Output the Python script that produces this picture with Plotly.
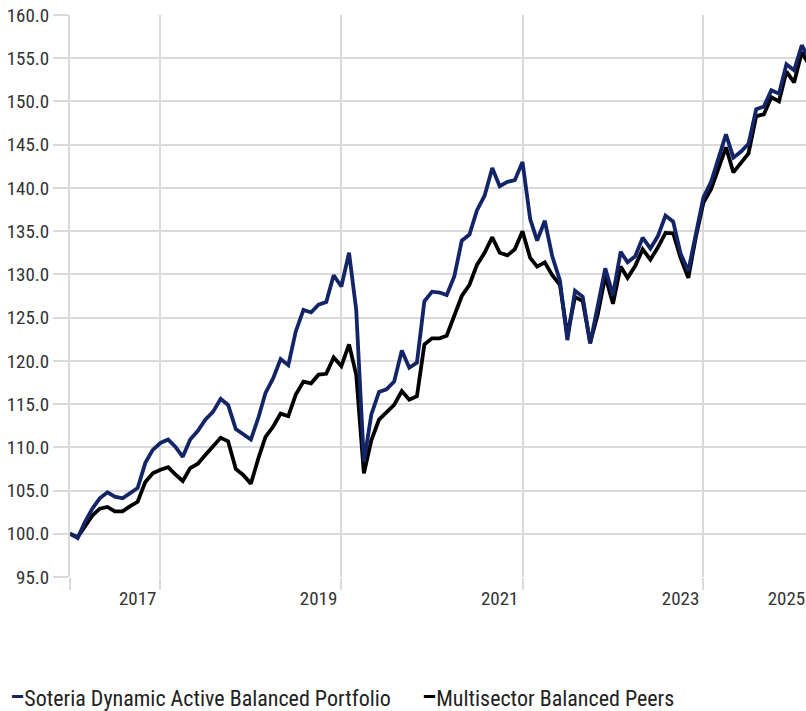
import pandas as pd
import plotly.graph_objects as go

start_date = "2017-01-01"
n_months = 99

soteria = [100.0, 99.5, 101.3, 102.9, 104.1, 104.8, 104.3, 104.1, 104.7, 105.3,
           108.2, 109.7, 110.5, 110.9, 110.1, 108.9, 110.9, 111.9, 113.2, 114.1,
           115.6, 114.9, 112.1, 111.5, 110.9, 113.5, 116.3, 118.0, 120.2, 119.5,
           123.4, 125.9, 125.6, 126.5, 126.8, 129.9, 128.6, 132.5, 125.9, 108.3,
           113.8, 116.4, 116.7, 117.6, 121.2, 119.2, 119.8, 126.9, 128.0, 127.9,
           127.6, 129.8, 133.9, 134.6, 137.4, 139.1, 142.3, 140.2, 140.7, 140.9,
           143.0, 136.4, 133.9, 136.2, 132.1, 129.3, 122.4, 128.1, 127.4, 122.0,
           126.4, 130.7, 127.6, 132.6, 131.4, 132.1, 134.25, 133.0, 134.4, 136.8,
           136.1, 132.4, 130.4, 134.8, 138.9, 140.7, 143.3, 146.2, 143.5, 144.2,
           145.1, 149.1, 149.4, 151.3, 150.9, 154.3, 153.6, 156.5, 155.0]

peers = [100.0, 99.6, 100.8, 102.1, 102.9, 103.1, 102.6, 102.6, 103.2, 103.7,
         106.0, 107.0, 107.4, 107.7, 106.9, 106.1, 107.6, 108.1, 109.1, 110.1,
         111.1, 110.7, 107.5, 106.8, 105.8, 108.8, 111.2, 112.4, 113.9, 113.6,
         116.1, 117.6, 117.4, 118.4, 118.5, 120.4, 119.4, 121.9, 118.4, 107.0,
         110.8, 113.2, 114.0, 114.9, 116.5, 115.5, 115.9, 121.9, 122.6, 122.6,
         122.9, 125.1, 127.5, 128.8, 131.1, 132.5, 134.3, 132.5, 132.2, 132.9,
         135.0, 131.9, 130.9, 131.4, 129.9, 128.8, 123.0, 127.4, 126.9, 122.1,
         125.4, 129.8, 126.6, 130.9, 129.6, 131.0, 132.9, 131.7, 133.1, 134.8,
         134.75, 131.9, 129.6, 134.25, 138.3, 139.85, 142.2, 144.7, 141.8, 142.9,
         144.0, 148.3, 148.5, 150.5, 150.0, 153.45, 152.2, 155.7, 154.3]

series_names = ["Soteria Dynamic Active Balanced Portfolio", "Multisector Balanced Peers"]
series_colors = ["#132467", "#000000"]

grid_dates = ["2017-01-01", "2018-01-01", "2020-01-01", "2022-01-01", "2024-01-01"]
label_dates = ["2017-10-01", "2019-10-01", "2021-10-01", "2023-10-01", "2024-12-01"]
label_text = ["2017", "2019", "2021", "2023", "2025"]
x_end = "2025-02-18"

dates = pd.date_range(start_date, periods=n_months, freq="MS")

FONT = "Roboto Condensed, Archivo Narrow, Liberation Sans Narrow, sans-serif"
GRID = "#dadada"

W, H = 806, 711
ML, MT, MB = 70, 15, 134
PW, PH = W - ML, H - MT - MB

fig = go.Figure()
fig.add_trace(go.Scatter(x=dates, y=peers, mode="lines", name=series_names[1],
                         line=dict(color=series_colors[1], width=3.8), showlegend=False))
fig.add_trace(go.Scatter(x=dates, y=soteria, mode="lines", name=series_names[0],
                         line=dict(color=series_colors[0], width=3.8), showlegend=False))
fig.add_trace(go.Scatter(x=[dates[0]], y=[100], xaxis="x2", mode="lines",
                         showlegend=False, hoverinfo="skip", line=dict(width=0)))

fig.update_layout(
    width=W, height=H,
    margin=dict(l=ML, r=0, t=MT, b=MB, autoexpand=False),
    paper_bgcolor="white", plot_bgcolor="white",
    font=dict(family=FONT, color="#333333", size=19),
    xaxis=dict(type="date", range=[dates[0], x_end], tickmode="array",
               tickvals=grid_dates, showticklabels=False, showgrid=True,
               gridcolor=GRID, gridwidth=2, ticks="outside", ticklen=12,
               tickcolor=GRID, tickwidth=2, zeroline=False, showline=False,
               automargin=False),
    xaxis2=dict(type="date", overlaying="x", matches="x", side="bottom",
                tickmode="array", tickvals=label_dates, ticktext=label_text,
                showgrid=False, ticks="", zeroline=False, showline=False,
                automargin=False, ticklabeloverflow="allow",
                ticklabelstandoff=8, tickfont=dict(size=19, color="#333333")),
    yaxis=dict(range=[95, 160], dtick=5, tick0=95, tickformat=".1f",
               showgrid=True, gridcolor=GRID, gridwidth=2, ticks="outside",
               ticklen=15, tickcolor=GRID, tickwidth=2, zeroline=False,
               showline=True, linecolor=GRID, linewidth=2, automargin=False,
               ticklabeloverflow="allow",
               tickfont=dict(size=19, color="#333333")),
    showlegend=False,
)

legend_x = [8, 420]
for i in range(2):
    fig.add_annotation(
        xref="paper", yref="paper", x=(legend_x[i] - ML) / PW, y=-(697 - (H - MB)) / PH,
        xanchor="left", yanchor="middle", showarrow=False,
        text=(f"<span style='color:{series_colors[i]};font-size:26px'><b>–</b></span>"
              f"{series_names[i]}"),
        font=dict(size=22, color="#222222", family=FONT),
    )

fig.write_html("out.html", config={"displayModeBar": False},
               post_script="document.body.style.margin='0';")
